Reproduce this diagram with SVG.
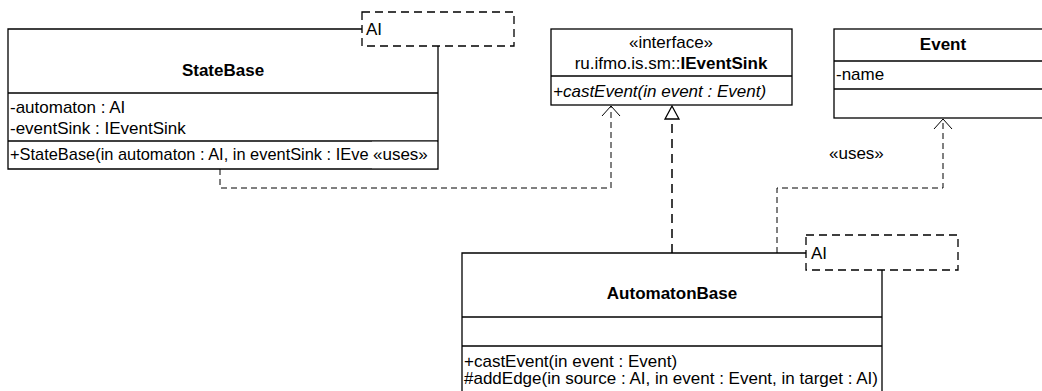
<svg xmlns="http://www.w3.org/2000/svg" width="1042" height="391" viewBox="0 0 1042 391">
<style>
text{font-family:"Liberation Sans",Arial,sans-serif;font-size:17px;fill:#000}
.b{font-weight:bold}
.i{font-style:italic}
.m{text-anchor:middle}
.box{fill:#fff;stroke:#000;stroke-width:1.3}
.ln{stroke:#000;stroke-width:1.3;fill:none}
.tpl{fill:#fff;stroke:#000;stroke-width:1.3;stroke-dasharray:8 5}
.dep{fill:none;stroke:#000;stroke-width:1;stroke-dasharray:6 4}
.ah{fill:none;stroke:#000;stroke-width:1}
.tri{fill:#fff;stroke:#000;stroke-width:1.3}
</style>
<rect width="1042" height="391" fill="#fff"/>
<g id="connectors">
  <path class="dep" d="M220,169 V188 H611 V106"/>
  <path class="ah" d="M602,116 L611,106 L620,116"/>
  <path class="dep" d="M672,253 V119" style="stroke-width:1.5;stroke-dasharray:9 6"/>
  <path class="tri" d="M672,106 L665,119 L679,119 Z"/>
  <path class="dep" d="M777,253 V188 H943 V119"/>
  <path class="ah" d="M934,129 L943,119 L952,129"/>
  <text x="829" y="159">«uses»</text>
</g>
<g id="StateBase">
  <rect x="8" y="29" width="430" height="140" fill="#fff"/>
  <path class="ln" d="M362,29 H8 V169 H438 V46"/>
  <line class="ln" x1="8" y1="93" x2="438" y2="93"/>
  <line class="ln" x1="8" y1="141" x2="438" y2="141"/>
  <text class="b m" x="223" y="76">StateBase</text>
  <text x="10" y="113">-automaton : AI</text>
  <text x="10" y="134">-eventSink : IEventSink</text>
  <text x="10" y="160" style="font-size:16.4px">+StateBase(in automaton : AI, in eventSink : IEve</text>
  <rect x="372" y="141.7" width="65" height="26.5" fill="#fff"/>
  <text x="373" y="160">«uses»</text>
  <rect class="tpl" x="362" y="12" width="152" height="34"/>
  <text x="366" y="35">AI</text>
</g>
<g id="IEventSink">
  <rect class="box" x="551" y="29" width="241" height="76"/>
  <line class="ln" x1="551" y1="76" x2="792" y2="76"/>
  <text class="m" x="671" y="48">«interface»</text>
  <text class="m" x="671" y="69">ru.ifmo.is.sm::<tspan class="b">IEventSink</tspan></text>
  <text class="i" x="553" y="97">+castEvent(in event : Event)</text>
</g>
<g id="Event">
  <rect class="box" x="834" y="29" width="226" height="89"/>
  <line class="ln" x1="834" y1="61" x2="1060" y2="61"/>
  <line class="ln" x1="834" y1="89" x2="1060" y2="89"/>
  <text class="b m" x="943" y="50">Event</text>
  <text x="836" y="80">-name</text>
</g>
<g id="AutomatonBase">
  <rect x="462" y="253" width="420" height="140" fill="#fff"/>
  <path class="ln" d="M806,253 H462 V393 M882,393 V270"/>
  <line class="ln" x1="462" y1="317" x2="882" y2="317"/>
  <line class="ln" x1="462" y1="346" x2="882" y2="346"/>
  <text class="b m" x="672" y="299">AutomatonBase</text>
  <text x="464" y="367">+castEvent(in event : Event)</text>
  <text x="464" y="384">#addEdge(in source : AI, in event : Event, in target : AI)</text>
  <rect class="tpl" x="806" y="235" width="152" height="35"/>
  <text x="811" y="259">AI</text>
</g>
</svg>
